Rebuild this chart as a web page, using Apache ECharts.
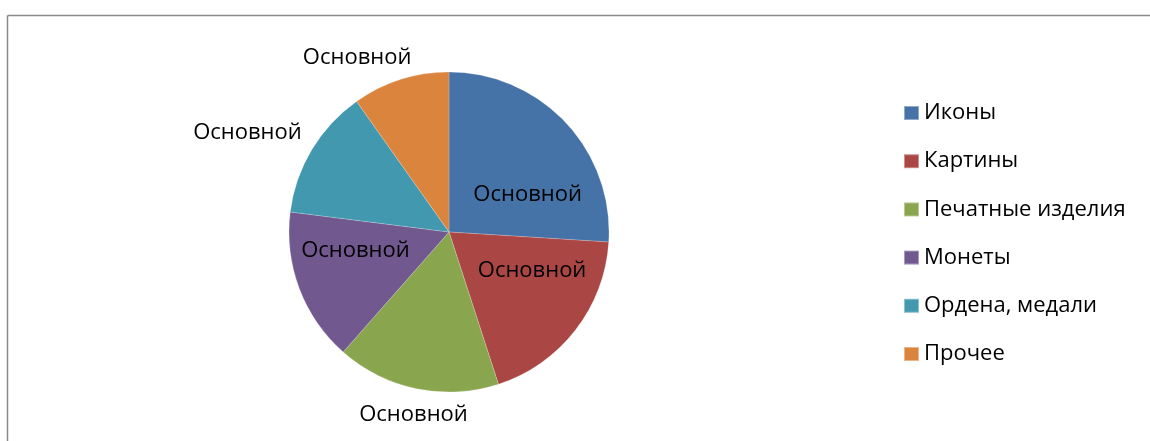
<!DOCTYPE html>
<html>
<head>
<meta charset="utf-8">
<script src="https://cdn.jsdelivr.net/npm/echarts@6/dist/echarts.min.js"></script>
<style>html,body{margin:0;padding:0;background:#fff}#c{width:1150px;height:441px}</style>
</head>
<body>
<div id="c"></div>
<script>
const categories = ['Иконы', 'Картины', 'Печатные изделия', 'Монеты', 'Ордена, медали', 'Прочее'];
const values = [26, 19, 16.5, 15.5, 13.2, 9.8];
const labelText = 'Основной';

const colors = ['#4572A7', '#AA4643', '#89A54E', '#71588F', '#4198AF', '#DB843D'];
const FONT = '"Open Sans", "Noto Sans", sans-serif';
const CX = 449, CY = 232, R = 160;
// label placement: angle (deg clockwise from 12 o'clock) and distance from centre
const labelPolar = [[64.7, 87], [114.8, 91.5], [191, 186], [258.7, 95.4], [296.2, 224.6], [332.2, 197]];
const labelInside = [true, true, false, true, false, false];

const chart = echarts.init(document.getElementById('c'), null, {renderer: 'canvas'});
chart.setOption({
  animation: false,
  backgroundColor: '#fff',
  color: colors,
  graphic: [
    {type: 'line', shape: {x1: 7.5, y1: 15.5, x2: 1150, y2: 15.5}, style: {stroke: '#8a8a8a', lineWidth: 1.5}},
    {type: 'line', shape: {x1: 7.5, y1: 15.5, x2: 7.5, y2: 441}, style: {stroke: '#8a8a8a', lineWidth: 1.5}}
  ],
  legend: {
    orient: 'vertical',
    left: 903,
    top: 102,
    padding: 0,
    itemWidth: 15,
    itemHeight: 14,
    itemGap: 26.2,
    icon: 'rect',
    textStyle: {fontFamily: FONT, fontSize: 22, color: '#000', lineHeight: 22},
    data: categories
  },
  series: [{
    type: 'pie',
    center: [CX, CY],
    radius: R,
    startAngle: 90,
    clockwise: true,
    silent: true,
    itemStyle: {borderColor: 'rgba(255,255,255,0.4)', borderWidth: 0.5},
    label: {
      show: true,
      formatter: () => labelText,
      fontFamily: FONT,
      fontSize: 22,
      color: '#000'
    },
    labelLine: {show: false},
    labelLayout: (p) => {
      const [a, d] = labelPolar[p.dataIndex];
      const rad = a * Math.PI / 180;
      return {x: CX + d * Math.sin(rad), y: CY - d * Math.cos(rad), align: 'center', verticalAlign: 'middle'};
    },
    data: categories.map((n, i) => ({
      name: n,
      value: values[i],
      label: {position: labelInside[i] ? 'inside' : 'outside'}
    }))
  }]
});
</script>
</body>
</html>
